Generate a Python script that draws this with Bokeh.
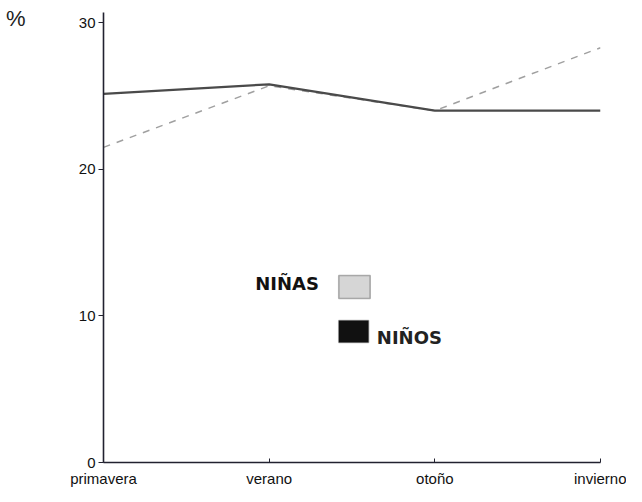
from bokeh.plotting import figure
from bokeh.models import Range1d, FixedTicker, Label, BoxAnnotation, LinearAxis
from bokeh.embed import file_html
from bokeh.resources import INLINE

estaciones = ["primavera", "verano", "otoño", "invierno"]
ninos = [25.15, 25.8, 24.0, 24.0]
ninas = [21.5, 25.7, 24.0, 28.3]
y_ticks = [0, 10, 20, 30]

xs = list(range(len(estaciones)))

p = figure(width=626, height=490, output_backend="svg", toolbar_location=None,
           x_range=Range1d(0, 3), y_range=Range1d(0, 30.7),
           min_border_left=103, min_border_right=26, min_border_top=12, min_border_bottom=28)
p.outline_line_color = None
p.xgrid.grid_line_color = None
p.ygrid.grid_line_color = None
p.background_fill_color = "white"
p.border_fill_color = "white"

p.line(xs, ninas, line_color="#a0a0a0", line_width=1.5, line_dash="7 7")
p.line(xs, ninos, line_color="#4a4a4a", line_width=2.2)

FONT = "Liberation Sans"
AXC = "#222230"
xa = p.xaxis[0]
xa.ticker = FixedTicker(ticks=xs)
xa.major_label_overrides = {i: s for i, s in enumerate(estaciones)}
xa.major_tick_in = 4
xa.major_tick_out = 0
xa.minor_tick_line_color = None
xa.axis_line_color = AXC
xa.axis_line_width = 1.6
xa.major_tick_line_color = AXC
xa.major_label_text_font = FONT
xa.major_label_text_font_size = "15px"
xa.major_label_text_color = "#111111"
xa.major_label_standoff = 7

ya = p.yaxis[0]
ya.ticker = FixedTicker(ticks=y_ticks)
ya.major_tick_in = 0
ya.major_tick_out = 5
ya.minor_tick_line_color = None
ya.axis_line_color = AXC
ya.axis_line_width = 1.6
ya.major_tick_line_color = AXC
ya.major_label_text_font = FONT
ya.major_label_text_font_size = "15px"
ya.major_label_text_color = "#111111"
ya.major_label_standoff = 3

# "%" unit marker at the top left, as an extra label-only axis
unit_axis = LinearAxis(ticker=FixedTicker(ticks=[30.3]),
                       major_label_overrides={30.3: "%"},
                       axis_line_color=None, major_tick_line_color=None,
                       minor_tick_line_color=None,
                       major_label_text_font=FONT, major_label_text_font_size="22px",
                       major_label_text_color="#222222", major_label_standoff=44)
p.add_layout(unit_axis, "left")

# legend
LFONT = "DejaVu Sans"
p.add_layout(Label(x=1.30, y=12.2, text="NIÑAS", text_font=LFONT, text_font_size="18px",
                   text_font_style="bold", text_align="right", text_baseline="middle",
                   text_color="#111111"))
p.add_layout(BoxAnnotation(left=1.42, right=1.61, bottom=11.19, top=12.76,
                           fill_color="#d6d6d6", fill_alpha=1.0,
                           line_color="#111111", line_width=1.6))
p.add_layout(BoxAnnotation(left=1.42, right=1.60, bottom=8.19, top=9.69,
                           fill_color="#111111", fill_alpha=1.0,
                           line_color="#111111", line_width=1.6))
p.add_layout(Label(x=1.65, y=8.55, text="NIÑOS", text_font=LFONT, text_font_size="18px",
                   text_font_style="bold", text_align="left", text_baseline="middle",
                   text_color="#222222"))

open("out.html", "w").write(file_html(p, INLINE))
